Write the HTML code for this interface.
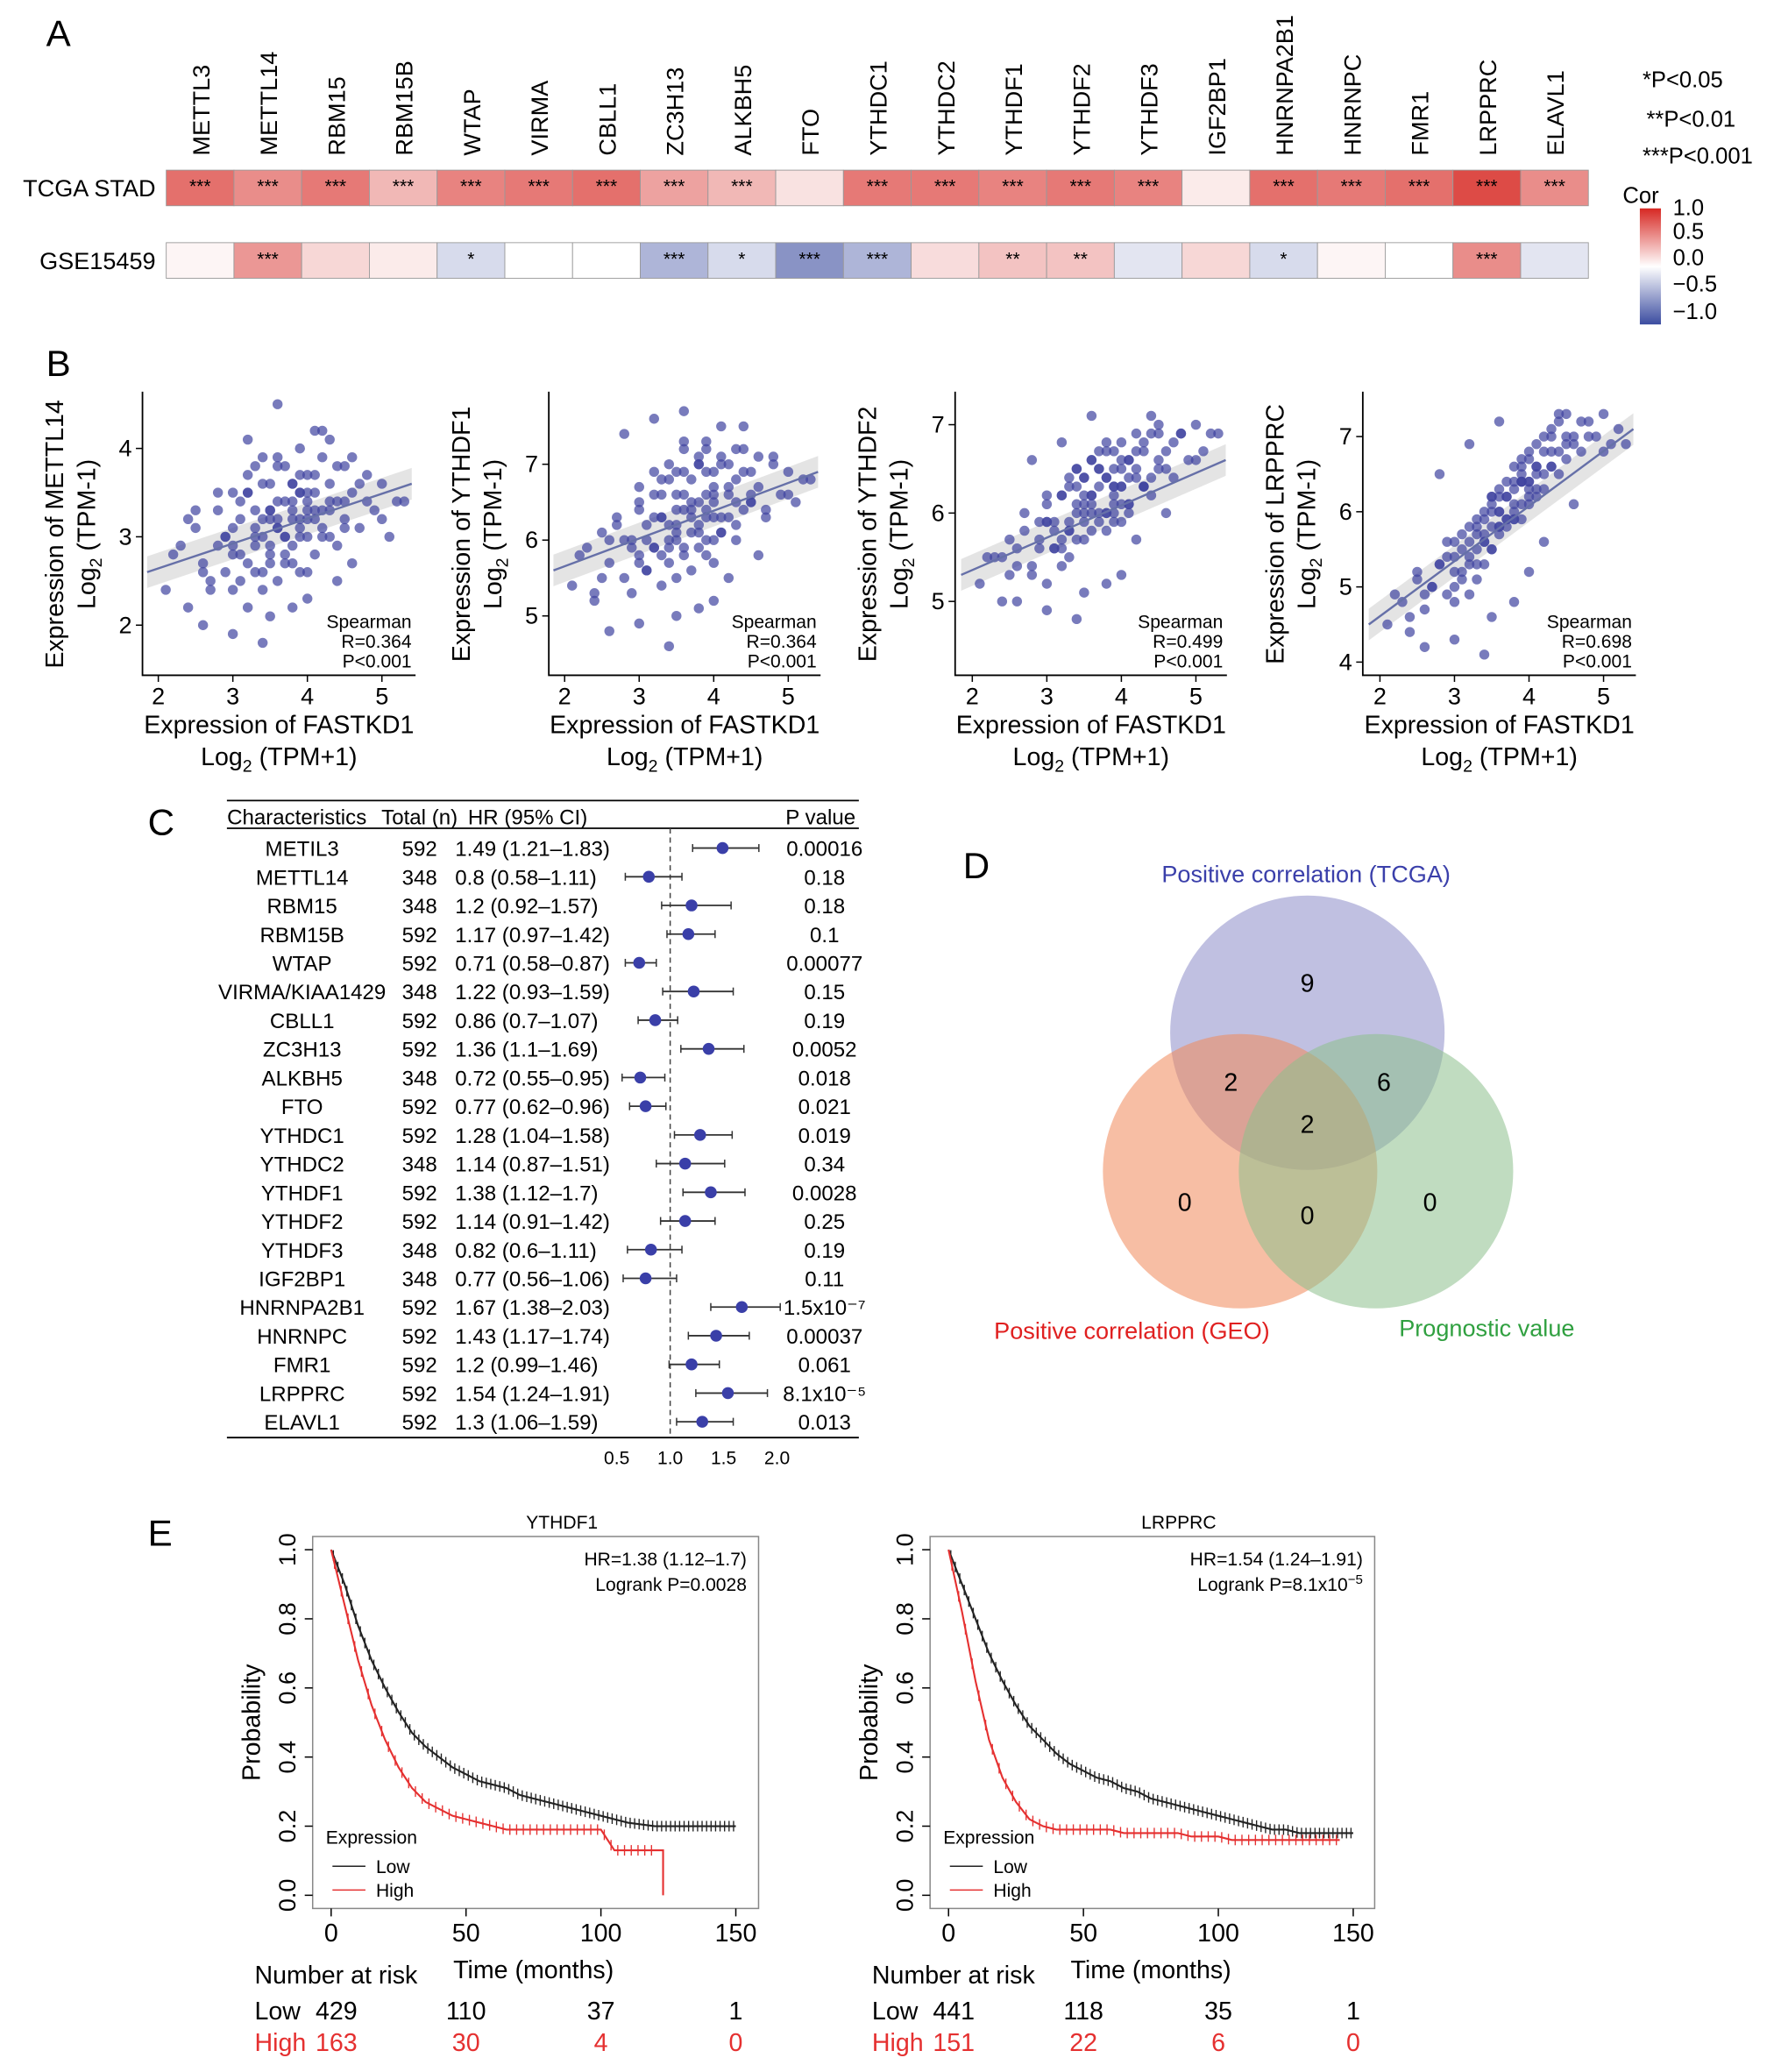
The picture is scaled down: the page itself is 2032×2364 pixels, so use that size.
<!DOCTYPE html>
<html><head><meta charset="utf-8">
<style>
html,body{margin:0;padding:0;background:#fff;}
svg{display:block;font-family:"Liberation Sans",Arial,sans-serif;}
</style></head>
<body>
<svg id="fig" width="2032" height="2364" viewBox="0 0 1350 1571" preserveAspectRatio="none" xmlns="http://www.w3.org/2000/svg"></svg>
<script>
// ---------- Panel A data ----------
const genesA = ["METTL3","METTL14","RBM15","RBM15B","WTAP","VIRMA","CBLL1","ZC3H13","ALKBH5","FTO","YTHDC1","YTHDC2","YTHDF1","YTHDF2","YTHDF3","IGF2BP1","HNRNPA2B1","HNRNPC","FMR1","LRPPRC","ELAVL1"];
const corTCGA = [0.6,0.45,0.55,0.25,0.5,0.55,0.6,0.35,0.25,0.08,0.55,0.55,0.5,0.55,0.5,0.05,0.6,0.55,0.6,0.8,0.45];
const starTCGA = ["***","***","***","***","***","***","***","***","***","","***","***","***","***","***","","***","***","***","***","***"];
const corGSE = [0.02,0.4,0.12,0.05,-0.15,0.0,0.0,-0.35,-0.15,-0.55,-0.35,0.1,0.2,0.2,-0.1,0.12,-0.15,0.02,0.0,0.45,-0.1];
const starGSE = ["","***","","","*","","","***","*","***","***","","**","**","","","*","","","***",""];
// ---------- Panel B data ----------
const fastkd1 = [2.1,2.3,2.4,2.5,2.6,2.7,2.8,2.9,2.9,3.0,3.0,3.1,3.1,3.2,3.2,3.3,3.3,3.3,3.4,3.4,3.4,3.5,3.5,3.5,3.6,3.6,3.6,3.7,3.7,3.7,3.8,3.8,3.8,3.9,3.9,3.9,4.0,4.0,4.0,4.1,4.1,4.1,4.2,4.2,4.3,4.3,4.4,4.4,4.5,4.5,4.6,4.7,4.8,4.9,5.0,5.1,5.2,3.0,3.5,4.0,2.8,3.2,3.6,4.2,4.6,3.4,3.8,2.6,4.4,3.9,
2.2,2.5,2.7,2.9,3.0,3.1,3.2,3.3,3.4,3.5,3.6,3.7,3.8,3.9,4.0,4.1,4.2,4.3,4.4,4.5,3.1,3.3,3.5,3.7,3.9,4.1,4.3,3.2,3.4,3.6,3.8,4.0,4.2,3.0,3.5,4.0,4.5,2.8,3.3,3.8,4.3,4.8,3.6,3.7,3.8,3.9,4.0,3.4,3.5,3.6,2.4,2.6,3.0,3.2,4.6,4.7,5.0,5.3,3.9,4.1];
const mettl14 = [2.4,2.9,2.2,3.1,2.7,2.5,3.3,2.6,3.0,2.4,3.5,2.8,3.2,2.2,3.7,2.9,3.3,2.6,3.0,3.9,2.4,3.2,2.8,3.6,3.1,2.5,3.4,3.0,3.8,2.7,3.3,2.9,3.6,3.1,2.6,4.0,3.4,3.0,3.7,3.2,2.8,3.5,3.3,3.9,3.0,3.6,3.4,2.9,3.2,3.8,3.5,3.1,3.7,3.3,3.6,3.0,3.4,1.9,2.1,2.3,3.5,4.1,4.5,4.2,2.7,1.8,2.2,2.0,2.5,3.2,
2.8,3.3,2.4,3.0,2.9,3.4,2.7,3.1,3.6,2.9,3.2,3.4,2.7,3.5,3.2,3.7,3.0,3.4,3.8,3.1,2.5,3.8,3.3,2.8,3.0,3.3,4.1,3.5,2.6,3.9,3.2,3.5,3.1,3.1,3.3,2.6,3.4,2.9,3.0,3.6,3.3,3.4,3.8,3.0,3.4,3.7,3.3,3.2,2.7,3.1,3.2,2.6,2.8,3.5,3.9,3.6,3.2,3.4,3.5,4.2];
const ythdf1 = [5.4,5.9,5.2,6.1,5.7,6.3,5.5,6.0,5.3,6.5,5.8,6.2,5.6,6.9,5.9,6.3,5.4,6.6,6.0,7.0,5.7,6.2,6.6,5.5,6.4,7.2,5.9,6.3,6.8,5.6,6.1,7.0,6.5,5.8,6.4,7.3,6.0,6.7,5.7,6.3,7.5,6.1,6.6,7.0,6.2,6.8,6.4,7.2,6.5,6.9,6.7,6.3,7.1,6.6,6.9,6.5,6.8,4.9,5.0,5.2,7.4,7.6,7.7,5.5,5.8,4.6,5.1,4.8,7.5,6.9,
5.8,5.5,6.2,5.9,6.4,5.6,6.3,6.8,5.9,6.1,6.9,6.5,5.9,6.6,6.3,7.1,6.7,6.0,6.9,6.5,6.0,5.8,6.9,6.4,7.2,6.1,6.5,6.6,6.2,5.8,7.0,6.6,6.3,5.7,6.4,6.9,6.6,6.0,6.3,6.2,7.2,7.0,6.6,6.1,7.1,6.3,6.5,6.8,6.0,7.3,5.3,6.0,6.7,5.9,7.1,6.4,6.6,6.8,6.0,7.0];
const ythdf2 = [5.2,5.5,5.0,5.7,5.4,5.8,5.3,5.6,5.9,5.2,6.1,5.6,5.9,5.4,6.2,5.8,6.3,5.5,6.0,6.5,5.7,6.1,5.9,6.4,5.8,6.2,6.6,5.9,6.3,6.0,6.4,5.8,6.7,6.1,6.5,6.0,6.3,6.8,5.9,6.4,6.6,6.1,6.5,6.9,6.3,6.7,6.4,6.9,6.6,7.0,6.7,6.4,6.9,6.6,7.0,6.7,6.9,4.9,5.1,5.3,6.6,6.8,7.1,5.7,6.0,4.8,5.2,5.0,7.1,6.2,
5.5,5.3,6.0,5.7,5.9,5.6,6.2,5.8,6.3,5.7,6.1,6.5,6.0,6.3,6.6,6.0,6.4,6.8,6.2,6.5,5.8,6.4,6.2,6.7,5.9,6.6,6.3,5.6,6.5,6.0,6.8,6.1,6.7,5.9,6.0,6.5,6.9,5.4,5.9,6.4,6.3,6.9,6.2,6.5,6.0,6.7,6.3,6.1,6.4,6.6,5.5,5.6,6.2,5.7,6.5,6.8,6.6,6.9,6.3,6.1];
const lrpprc = [4.5,4.8,4.4,5.1,4.7,5.0,5.3,4.9,5.4,4.8,5.6,5.1,5.5,4.9,5.8,5.3,5.7,5.1,5.6,6.0,5.3,5.8,5.5,6.2,5.7,6.0,6.3,5.8,6.2,5.9,6.4,5.9,6.6,6.1,6.5,5.9,6.4,6.7,6.2,6.6,6.9,6.3,6.8,7.0,6.6,7.1,6.8,7.2,6.9,7.3,7.0,6.8,7.2,7.0,7.3,6.9,7.1,4.3,4.6,5.2,6.5,6.9,7.2,5.6,6.1,4.1,4.8,4.2,7.3,6.4,
4.9,5.2,5.0,5.6,5.2,5.7,5.4,5.9,5.6,6.0,5.8,6.2,5.9,6.4,6.1,6.6,6.3,6.8,6.5,7.0,5.2,5.5,6.1,5.9,6.4,6.2,7.0,5.6,5.9,6.2,6.0,6.8,6.5,5.0,5.5,6.4,6.7,5.3,5.8,6.3,6.6,7.0,6.0,6.4,6.1,6.6,6.3,5.7,6.2,5.8,4.6,4.9,5.4,5.3,6.9,7.2,6.8,6.9,6.7,6.5];
const scatterGenes = ["METTL14","YTHDF1","YTHDF2","LRPPRC"];
const scatterR = ["0.364","0.364","0.499","0.698"];
const fitStart = [2.6,5.6,5.3,4.5];
const fitEnd = [3.6,6.9,6.6,7.1];
const yTicks1 = [2,3,4], yTicks2 = [5,6,7], yTicks3 = [5,6,7], yTicks4 = [4,5,6,7];
const xTicksB = [2,3,4,5];
// ---------- Panel C data ----------
const fpNames = ["METIL3","METTL14","RBM15","RBM15B","WTAP","VIRMA/KIAA1429","CBLL1","ZC3H13","ALKBH5","FTO","YTHDC1","YTHDC2","YTHDF1","YTHDF2","YTHDF3","IGF2BP1","HNRNPA2B1","HNRNPC","FMR1","LRPPRC","ELAVL1"];
const fpTotal = [592,348,348,592,592,348,592,592,348,592,592,348,592,592,348,348,592,592,592,592,592];
const fpHR = [1.49,0.8,1.2,1.17,0.71,1.22,0.86,1.36,0.72,0.77,1.28,1.14,1.38,1.14,0.82,0.77,1.67,1.43,1.2,1.54,1.3];
const fpLo = [1.21,0.58,0.92,0.97,0.58,0.93,0.7,1.1,0.55,0.62,1.04,0.87,1.12,0.91,0.6,0.56,1.38,1.17,0.99,1.24,1.06];
const fpHi = [1.83,1.11,1.57,1.42,0.87,1.59,1.07,1.69,0.95,0.96,1.58,1.51,1.7,1.42,1.11,1.06,2.03,1.74,1.46,1.91,1.59];
const fpP = ["0.00016","0.18","0.18","0.1","0.00077","0.15","0.19","0.0052","0.018","0.021","0.019","0.34","0.0028","0.25","0.19","0.11","1.5x10⁻⁷","0.00037","0.061","8.1x10⁻⁵","0.013"];
const fpTicks = [0.5,1.0,1.5,2.0];
// ---------- Panel E data ----------
const kmTime = [0,5,10,15,20,25,30,35,40,45,50,55,60,65,70,75,80,85,90,95,100,105,110,115,120,125,130,135,140,145,150];
const km1Low = [1,0.9,0.78,0.68,0.6,0.53,0.47,0.43,0.4,0.37,0.35,0.33,0.32,0.31,0.29,0.28,0.27,0.26,0.25,0.24,0.23,0.22,0.21,0.205,0.2,0.2,0.2,0.2,0.2,0.2,0.2];
const km1High = [1,0.84,0.68,0.55,0.45,0.37,0.31,0.27,0.25,0.23,0.22,0.21,0.2,0.19,0.19,0.19,0.19,0.19,0.19,0.19,0.19,0.13,0.13,0.13,0.13,0,null,null,null,null,null];
const km2Low = [1,0.9,0.8,0.7,0.62,0.55,0.49,0.45,0.41,0.38,0.36,0.34,0.33,0.31,0.3,0.28,0.27,0.26,0.25,0.24,0.23,0.22,0.21,0.2,0.19,0.19,0.18,0.18,0.18,0.18,0.18];
const km2High = [1,0.82,0.62,0.45,0.34,0.27,0.22,0.2,0.19,0.19,0.19,0.19,0.19,0.18,0.18,0.18,0.18,0.18,0.17,0.17,0.17,0.16,0.16,0.16,0.16,0.16,0.16,0.16,0.16,0.16,null];
const riskLow1 = [429,110,37,1], riskHigh1 = [163,30,4,0];
const riskLow2 = [441,118,35,1], riskHigh2 = [151,22,6,0];
const kmXTicks = [0,50,100,150];
const kmYTicks = [0,0.2,0.4,0.6,0.8,1.0];

const NS="http://www.w3.org/2000/svg";
const svg=document.getElementById('fig');
function mk(tag,attrs,parent,txt){const e=document.createElementNS(NS,tag);for(const k in attrs)e.setAttribute(k,attrs[k]);if(txt!==undefined)e.textContent=txt;(parent||svg).appendChild(e);return e;}
function grp(name){const g=mk('g',{});


return g;}
function txt(p,x,y,s,size,anchor,extra){const t=mk('text',Object.assign({x:x,y:y,'font-size':size||16,'text-anchor':anchor||'middle',fill:'#000'},extra||{}),p,s);return t;}

["A",35,35,"B",35,285,"C",112,633,"D",730,666,"E",112,1172].forEach((v,i,a)=>{if(i%3===0){const t=txt(svg,a[i+1],a[i+2],v,28,'start');

}});

// ---------- Panel A ----------
function corColor(v){let r,g,b;if(v>=0){const t=Math.pow(Math.min(v,1),0.8);r=255+(215-255)*t;g=255+(40-255)*t;b=255+(35-255)*t;}else{const t=Math.pow(Math.min(-v,1),0.85);r=255+(59-255)*t;g=255+(76-255)*t;b=255+(160-255)*t;}return `rgb(${r|0},${g|0},${b|0})`;}
const gA=grp('heatmap-panel-a');
const hx0=126,hcw=(1204-126)/genesA.length;
genesA.forEach((gname,i)=>{const cx=hx0+hcw*(i+0.5);
const t=txt(gA,0,0,gname,18,'start',{transform:`translate(${cx+7},118) rotate(-90)`});


[[corTCGA,starTCGA,129],[corGSE,starGSE,184]].forEach(([cv,st,y],r)=>{
const c=mk('rect',{x:hx0+hcw*i,y:y,width:hcw,height:27,fill:corColor(cv[i]),stroke:'#999','stroke-width':0.6},gA);


if(st[i])txt(gA,cx,y+17,st[i],14,'middle');});});
txt(gA,118,149,"TCGA STAD",18,'end');
txt(gA,118,204,"GSE15459",18,'end');
txt(gA,1245,66,"*P<0.05",17,'start');
txt(gA,1248,96,"**P<0.01",17,'start');
txt(gA,1245,124,"***P<0.001",17,'start');
txt(gA,1230,154,"Cor",17,'start');
const defs=mk('defs',{});const lg=mk('linearGradient',{id:'cg',x1:0,y1:0,x2:0,y2:1},defs);
[[0,1],[0.5,0],[1,-1]].forEach(([o,v])=>mk('stop',{offset:o,'stop-color':corColor(v)},lg));
const cb=mk('rect',{x:1243,y:158,width:16,height:88,fill:'url(#cg)'},gA);


[["1.0",163],["0.5",181],["0.0",201],["−0.5",221],["−1.0",242]].forEach(([s,y])=>txt(gA,1268,y,s,17,'start'));

// ---------- Panel B ----------
const plotsB=[{x0:108,x1:315,xa:120,ya:[2,474,4,340],ys:mettl14,yt:yTicks1,y0:297},
{x0:416,x1:622,xa:428,ya:[5,467,7,352],ys:ythdf1,yt:yTicks2,y0:297},
{x0:724,x1:930,xa:737,ya:[5,456,7,322],ys:ythdf2,yt:yTicks3,y0:297},
{x0:1033,x1:1240,xa:1046,ya:[4,502,7,331],ys:lrpprc,yt:yTicks4,y0:297}];
plotsB.forEach((p,k)=>{const g=grp('scatter-'+scatterGenes[k].toLowerCase());
const X=v=>p.xa+(v-2)*56.5;const Y=v=>p.ya[1]+(v-p.ya[0])*(p.ya[3]-p.ya[1])/(p.ya[2]-p.ya[0]);
const xl=1.85,xr=5.4;
mk('polygon',{points:`${X(xl)},${Y(fitStart[k])-12} ${X(xr)},${Y(fitEnd[k])-12} ${X(xr)},${Y(fitEnd[k])+12} ${X(xl)},${Y(fitStart[k])+12}`,fill:'#ddd',opacity:0.8},g);
fastkd1.forEach((xv,i)=>{const d=mk('circle',{cx:X(xv),cy:Y(p.ys[i]),r:3.8,fill:'#3f43a0','fill-opacity':0.7},g);

});
const ln=mk('line',{x1:X(xl),y1:Y(fitStart[k]),x2:X(xr),y2:Y(fitEnd[k]),stroke:'#6670a8','stroke-width':1.6},g);


mk('path',{d:`M${p.x0},${p.y0} V512 H${p.x1}`,fill:'none',stroke:'#000','stroke-width':1.2},g);
xTicksB.forEach(v=>{mk('line',{x1:X(v),x2:X(v),y1:512,y2:517,stroke:'#000'},g);txt(g,X(v),534,String(v),18);});
p.yt.forEach(v=>{mk('line',{x1:p.x0-5,x2:p.x0,y1:Y(v),y2:Y(v),stroke:'#000'},g);txt(g,p.x0-8,Y(v)+6,String(v),18,'end');});
const cxm=(p.x0+p.x1)/2;
txt(g,cxm,556,"Expression of FASTKD1",19);
const t2=txt(g,cxm,580,"",19);t2.innerHTML='Log<tspan font-size="13" dy="5">2</tspan><tspan dy="-5"> (TPM+1)</tspan>';
const ytl=txt(g,0,0,"Expression of "+scatterGenes[k],19,'middle',{transform:`translate(${p.x0-60},405) rotate(-90)`});


const yt2=txt(g,0,0,"",19,'middle',{transform:`translate(${p.x0-36},405) rotate(-90)`});yt2.innerHTML='Log<tspan font-size="13" dy="5">2</tspan><tspan dy="-5"> (TPM-1)</tspan>';
txt(g,p.x1-3,476,"Spearman",14,'end');txt(g,p.x1-3,491,"R="+scatterR[k],14,'end');txt(g,p.x1-3,506,"P<0.001",14,'end');});

// ---------- Panel C ----------
const gC=grp('forest-plot');
const FX=v=>508+(v-1)*81;const FY=i=>643+i*21.75;
mk('line',{x1:172,x2:651,y1:607,y2:607,stroke:'#000','stroke-width':1.2},gC);
mk('line',{x1:172,x2:651,y1:628,y2:628,stroke:'#000','stroke-width':1.2},gC);
mk('line',{x1:172,x2:651,y1:1090,y2:1090,stroke:'#000','stroke-width':1.2},gC);
mk('line',{x1:FX(1),x2:FX(1),y1:628,y2:1090,stroke:'#444','stroke-dasharray':'4,3'},gC);
txt(gC,225,625,"Characteristics",16);txt(gC,318,625,"Total (n)",16);txt(gC,400,625,"HR (95% CI)",16);txt(gC,622,625,"P value",16);
fpNames.forEach((n,i)=>{const y=FY(i);
txt(gC,229,y+6,n,16);txt(gC,318,y+6,String(fpTotal[i]),16);
txt(gC,345,y+6,`${fpHR[i]} (${fpLo[i]}–${fpHi[i]})`,16,'start');
txt(gC,625,y+6,fpP[i],16);
mk('line',{x1:FX(fpLo[i]),x2:FX(fpHi[i]),y1:y,y2:y,stroke:'#333','stroke-width':1.2},gC);
mk('line',{x1:FX(fpLo[i]),x2:FX(fpLo[i]),y1:y-3,y2:y+3,stroke:'#333'},gC);
mk('line',{x1:FX(fpHi[i]),x2:FX(fpHi[i]),y1:y-3,y2:y+3,stroke:'#333'},gC);
const d=mk('circle',{cx:FX(fpHR[i]),cy:y,r:4.5,fill:'#3a3fa8'},gC);

});
fpTicks.forEach(v=>txt(gC,FX(v),1110,v.toFixed(1),14));

// ---------- Panel D ----------
const gD=grp('venn-diagram');
[[991,783,'#8c8cc8'],[940,888,'#f0885a'],[1043,888,'#8cc08c']].forEach(([cx,cy,c],i)=>{const e=mk('circle',{cx:cx,cy:cy,r:104,fill:c,'fill-opacity':0.55},gD);

});
[["9",991,752],["2",933,827],["6",1049,827],["2",991,859],["0",898,918],["0",991,928],["0",1084,918]].forEach(([s,x,y])=>txt(gD,x,y,s,19));
txt(gD,990,669,"Positive correlation (TCGA)",18,'middle',{fill:'#3a3faa'});
txt(gD,858,1015,"Positive correlation (GEO)",18,'middle',{fill:'#e02020'});
txt(gD,1127,1013,"Prognostic value",18,'middle',{fill:'#30a040'});

// ---------- Panel E ----------
function km(x0,x1,title,lowS,highS,rl,rh,hr,lp){const g=grp('km-plot-'+title.toLowerCase());
const X=t=>x0+14+t*2.045;const Y=v=>1437-v*262;
mk('rect',{x:x0,y:1165,width:x1-x0,height:282,fill:'none',stroke:'#888','stroke-width':1},g);
txt(g,(x0+x1)/2+20,1159,title,14);
function path(s,col,name,nc){let d='';kmTime.forEach((t,i)=>{if(s[i]===null)return;const x=X(t),y=Y(s[i]);if(!d)d=`M${x},${y}`;else{ if(s[i]===0) d+=` H${x-4} V${y}`; else d+=` L${x},${y}`;}});
const pth=mk('path',{d:d,fill:'none',stroke:col,'stroke-width':1.4},g);


s.forEach((v,i)=>{if(v===null||v===0||i===0||s[i-1]===null)return;for(let k=0;k<nc;k++){const f=(k+0.5)/nc;const tx=kmTime[i-1]+(kmTime[i]-kmTime[i-1])*f;const sv=s[i-1]+(v-s[i-1])*f;mk('path',{d:`M${X(tx)},${Y(sv)-4} v8`,stroke:col,'stroke-width':0.9},g);}});}
path(lowS,'#222','km-line-low',3);path(highS,'#e53030','km-line-high',2);
kmXTicks.forEach(t=>{mk('line',{x1:X(t),x2:X(t),y1:1447,y2:1453,stroke:'#000'},g);txt(g,X(t),1472,String(t),19);});
kmYTicks.forEach(v=>{mk('line',{x1:x0-6,x2:x0,y1:Y(v),y2:Y(v),stroke:'#000'},g);txt(g,0,0,v.toFixed(1),18,'middle',{transform:`translate(${x0-13},${Y(v)}) rotate(-90)`});});
txt(g,0,0,"Probability",19,'middle',{transform:`translate(${x0-40},1306) rotate(-90)`});
txt(g,x1-9,1187,"HR="+hr,14,'end');
const lpt=txt(g,x1-9,1206,"",14,'end');lpt.innerHTML=lp;
txt(g,x0+10,1398,"Expression",14,'start');
mk('line',{x1:x0+15,x2:x0+40,y1:1415,y2:1415,stroke:'#222'},g);txt(g,x0+48,1420,"Low",14,'start');
mk('line',{x1:x0+15,x2:x0+40,y1:1433,y2:1433,stroke:'#e53030'},g);txt(g,x0+48,1438,"High",14,'start');
txt(g,x0-44,1504,"Number at risk",19,'start');txt(g,X(75),1500,"Time (months)",19);
txt(g,x0-44,1531,"Low",19,'start');txt(g,x0-44,1555,"High",19,'start',{fill:'#e53030'});
kmXTicks.forEach((t,i)=>{txt(g,i===0?X(t)+4:X(t),1531,String(rl[i]),19);txt(g,i===0?X(t)+4:X(t),1555,String(rh[i]),19,'middle',{fill:'#e53030'});});}
km(237,575,"YTHDF1",km1Low,km1High,riskLow1,riskHigh1,"1.38 (1.12–1.7)","Logrank P=0.0028");
km(705,1042,"LRPPRC",km2Low,km2High,riskLow2,riskHigh2,"1.54 (1.24–1.91)",'Logrank P=8.1x10<tspan font-size="10" dy="-5">−5</tspan>');
</script>
</body></html>
